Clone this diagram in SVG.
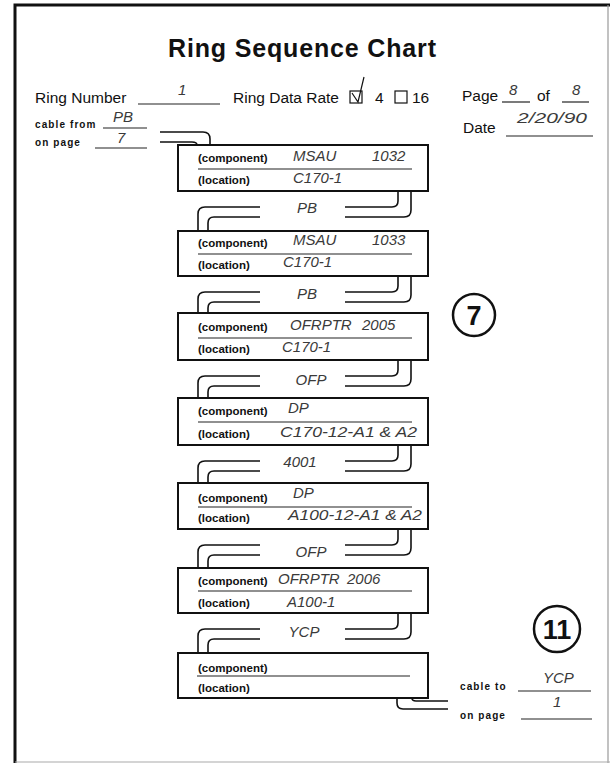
<svg xmlns="http://www.w3.org/2000/svg" width="610" height="763" viewBox="0 0 610 763">
<style>
.frame{fill:none;stroke:#111;stroke-width:3}
.box{fill:#fff;stroke:#111;stroke-width:2}
.div{stroke:#222;stroke-width:1.2}
.ul{stroke:#222;stroke-width:1.2}
.cab{fill:none;stroke:#111;stroke-width:1.6}
.lbl{font-family:"Liberation Sans",Arial,sans-serif;font-weight:bold;font-size:11.5px;fill:#111}
.sm{font-family:"Liberation Sans",Arial,sans-serif;font-weight:bold;font-size:10px;letter-spacing:1.1px;fill:#111}
.hd{font-family:"Liberation Sans",Arial,sans-serif;font-size:15.5px;fill:#111}
.hw{font-family:"Liberation Sans",Arial,sans-serif;font-style:italic;font-size:15px;fill:#3a3a3a}
.num{font-family:"Liberation Sans",Arial,sans-serif;font-weight:bold;font-size:27px;fill:#111;text-anchor:middle}
</style>
<rect width="610" height="763" fill="#fff"/>
<!-- page frame -->
<path d="M15 763 V5 H610" class="frame"/>
<line x1="608" y1="5" x2="608" y2="763" stroke="#999" stroke-width="1.2"/>
<line x1="15" y1="762" x2="610" y2="762" stroke="#aaa" stroke-width="1.2"/>

<g id="header">
<text x="302" y="57" text-anchor="middle" font-family="'Liberation Sans',Arial,sans-serif" font-weight="bold" font-size="25" textLength="268" lengthAdjust="spacing" fill="#111">Ring Sequence Chart</text>
<text x="35" y="103" class="hd">Ring Number</text>
<line x1="138" y1="104" x2="220" y2="104" class="ul"/>
<text x="178" y="95" class="hw">1</text>
<text x="233" y="103" class="hd">Ring Data Rate</text>
<rect x="350" y="91" width="12" height="12" fill="none" stroke="#111" stroke-width="1.2"/>
<path d="M352 93 L358 102 L364 77" fill="none" stroke="#111" stroke-width="1.2"/>
<text x="375" y="103" class="hd">4</text>
<rect x="395" y="91" width="12" height="12" fill="none" stroke="#111" stroke-width="1.2"/>
<text x="412" y="103" class="hd">16</text>
<text x="462" y="101" class="hd">Page</text>
<line x1="502" y1="102" x2="530" y2="102" class="ul"/>
<text x="509" y="95" class="hw">8</text>
<text x="537" y="101" class="hd">of</text>
<line x1="562" y1="102" x2="589" y2="102" class="ul"/>
<text x="572" y="95" class="hw">8</text>
<text x="463" y="133" class="hd">Date</text>
<line x1="506" y1="136" x2="593" y2="136" class="ul"/>
<text x="517" y="123" class="hw" textLength="70" lengthAdjust="spacingAndGlyphs">2/20/90</text>
<text x="35" y="128" class="sm">cable from</text>
<line x1="103" y1="128" x2="147" y2="128" class="ul"/>
<text x="113" y="122" class="hw">PB</text>
<text x="35" y="146" class="sm">on page</text>
<line x1="95" y1="148" x2="147" y2="148" class="ul"/>
<text x="117" y="143" class="hw">7</text>
</g>

<g id="connectors">
<path class="cab" d="M160 132 H203 Q210 132 210 139 V145"/>
<path class="cab" d="M160 142 H192 Q197 142 197 145"/>
<path class="cab" d="M398 191 V201 Q398 207 392 207 H345 M411 191 V210 Q411 217 404 217 H345 M260 207 H205 Q198 207 198 214 V231 M260 217 H214 Q208 217 208 223 V231"/>
<path class="cab" d="M398 276 V286 Q398 292 392 292 H345 M411 276 V295 Q411 302 404 302 H345 M260 292 H205 Q198 292 198 299 V313 M260 302 H214 Q208 302 208 308 V313"/>
<path class="cab" d="M398 360 V370 Q398 376 392 376 H345 M411 360 V379 Q411 386 404 386 H345 M260 376 H205 Q198 376 198 383 V398 M260 386 H214 Q208 386 208 392 V398"/>
<path class="cab" d="M398 445 V455 Q398 461 392 461 H345 M411 445 V464 Q411 471 404 471 H345 M260 461 H205 Q198 461 198 468 V483 M260 471 H214 Q208 471 208 477 V483"/>
<path class="cab" d="M398 529 V539 Q398 545 392 545 H345 M411 529 V548 Q411 555 404 555 H345 M260 545 H205 Q198 545 198 552 V568 M260 555 H214 Q208 555 208 561 V568"/>
<path class="cab" d="M398 613 V623 Q398 629 392 629 H345 M411 613 V632 Q411 639 404 639 H345 M260 629 H205 Q198 629 198 636 V653 M260 639 H214 Q208 639 208 645 V653"/>
<path class="cab" d="M412 698 V698 Q412 701 416 701 H448"/>
<path class="cab" d="M397 698 V703 Q397 709 403 709 H448"/>
<text x="307" y="213" class="hw" text-anchor="middle">PB</text>
<text x="307" y="299" class="hw" text-anchor="middle">PB</text>
<text x="311" y="385" class="hw" text-anchor="middle">OFP</text>
<text x="300" y="467" class="hw" text-anchor="middle">4001</text>
<text x="311" y="557" class="hw" text-anchor="middle">OFP</text>
<text x="304" y="637" class="hw" text-anchor="middle">YCP</text>
</g>

<g id="node1">
<rect x="178" y="145" width="250" height="46" class="box"/>
<line x1="198" y1="169" x2="412" y2="169" class="div"/>
<text x="198" y="162" class="lbl">(component)</text>
<text x="198" y="184" class="lbl">(location)</text>
<text x="293" y="161" class="hw">MSAU</text>
<text x="372" y="161" class="hw">1032</text>
<text x="293" y="183" class="hw">C170-1</text>
</g>
<g id="node2">
<rect x="178" y="231" width="250" height="45" class="box"/>
<line x1="198" y1="254" x2="412" y2="254" class="div"/>
<text x="198" y="247" class="lbl">(component)</text>
<text x="198" y="269" class="lbl">(location)</text>
<text x="293" y="245" class="hw">MSAU</text>
<text x="372" y="245" class="hw">1033</text>
<text x="283" y="267" class="hw">C170-1</text>
</g>
<g id="node3">
<rect x="178" y="313" width="250" height="47" class="box"/>
<line x1="198" y1="338" x2="412" y2="338" class="div"/>
<text x="198" y="331" class="lbl">(component)</text>
<text x="198" y="353" class="lbl">(location)</text>
<text x="290" y="330" class="hw">OFRPTR</text>
<text x="362" y="330" class="hw">2005</text>
<text x="282" y="352" class="hw">C170-1</text>
</g>
<g id="node4">
<rect x="178" y="398" width="250" height="47" class="box"/>
<line x1="198" y1="422" x2="412" y2="422" class="div"/>
<text x="198" y="415" class="lbl">(component)</text>
<text x="198" y="438" class="lbl">(location)</text>
<text x="288" y="413" class="hw">DP</text>
<text x="280" y="437" class="hw" textLength="137" lengthAdjust="spacingAndGlyphs">C170-12-A1 &amp; A2</text>
</g>
<g id="node5">
<rect x="178" y="483" width="250" height="46" class="box"/>
<line x1="198" y1="507" x2="412" y2="507" class="div"/>
<text x="198" y="502" class="lbl">(component)</text>
<text x="198" y="522" class="lbl">(location)</text>
<text x="293" y="498" class="hw">DP</text>
<text x="288" y="520" class="hw" textLength="134" lengthAdjust="spacingAndGlyphs">A100-12-A1 &amp; A2</text>
</g>
<g id="node6">
<rect x="178" y="568" width="250" height="45" class="box"/>
<line x1="198" y1="591" x2="412" y2="591" class="div"/>
<text x="198" y="585" class="lbl">(component)</text>
<text x="198" y="607" class="lbl">(location)</text>
<text x="278" y="584" class="hw">OFRPTR</text>
<text x="347" y="584" class="hw">2006</text>
<text x="287" y="607" class="hw">A100-1</text>
</g>
<g id="node7">
<rect x="178" y="653" width="250" height="45" class="box"/>
<line x1="197" y1="676" x2="410" y2="676" class="div"/>
<text x="198" y="672" class="lbl">(component)</text>
<text x="198" y="692" class="lbl">(location)</text>
</g>

<g id="footer">
<text x="460" y="690" class="sm">cable to</text>
<line x1="518" y1="691" x2="591" y2="691" class="ul"/>
<text x="543" y="683" class="hw">YCP</text>
<text x="460" y="719" class="sm">on page</text>
<line x1="521" y1="719" x2="592" y2="719" class="ul"/>
<text x="553" y="707" class="hw">1</text>
</g>

<g id="circle7">
<circle cx="474" cy="315" r="21" fill="none" stroke="#111" stroke-width="2.5"/>
<text x="474" y="325" class="num">7</text>
</g>
<g id="circle11">
<circle cx="557" cy="629" r="23" fill="none" stroke="#111" stroke-width="2.5"/>
<text x="557" y="639" class="num">11</text>
</g>
</svg>
